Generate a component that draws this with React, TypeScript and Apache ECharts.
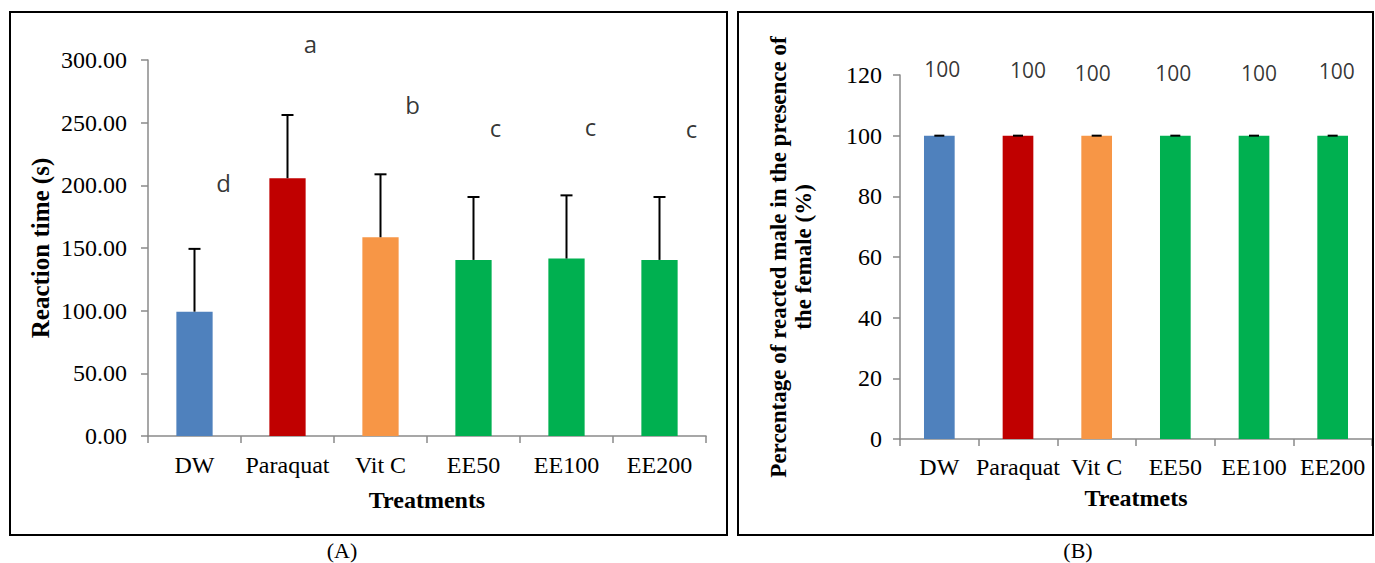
import React, { useEffect, useRef } from "react";
import * as echarts from "echarts";

const categories = ["DW", "Paraquat", "Vit C", "EE50", "EE100", "EE200"];
const barColors = ["#4F81BD", "#C00000", "#F79646", "#00B050", "#00B050", "#00B050"];

// Panel A: reaction time (s)
const reactionMean = [99.2, 205.7, 158.6, 140.5, 141.6, 140.5];
const reactionSD = [50.1, 50.4, 50.2, 50.2, 50.4, 50.2];
const letters = ["d", "a", "b", "c", "c", "c"];
const letterY = [201.9, 312.8, 264.1, 245.8, 247.3, 245.0];
const letterDx = [29, 23, 32, 22, 24, 32];
const yTicksA = { min: 0, max: 300, interval: 50 };

// Panel B: percentage of reacted male
const percentMean = [100, 100, 100, 100, 100, 100];
const percentSD = [0, 0, 0, 0, 0, 0];
const pctLabelY = [122.0, 121.7, 120.7, 120.7, 120.7, 121.3];
const pctLabelDx = [3, 10, -4, -2, 5, 4];
const yTicksB = { min: 0, max: 120, interval: 20 };

const SERIF = "'Liberation Serif', 'Times New Roman', serif";
const SANS = "'Open Sans', 'Liberation Sans', sans-serif";
const AXIS_GREY = "#8a8a8a";

function errorBarSeries(xIndex: number, mean: number[], sd: number[], capHalf: number) {
  return {
    type: "custom",
    xAxisIndex: xIndex,
    yAxisIndex: xIndex,
    z: 5,
    clip: false,
    data: mean.map((m, i) => [i, m, m + sd[i]]),
    renderItem: (params: any, api: any) => {
      const i = api.value(0);
      const lo = api.coord([i, api.value(1)]);
      const hi = api.coord([i, api.value(2)]);
      const style = { stroke: "#000", lineWidth: 2 };
      return {
        type: "group",
        children: [
          { type: "line", shape: { x1: lo[0], y1: lo[1], x2: hi[0], y2: hi[1] }, style },
          { type: "line", shape: { x1: hi[0] - capHalf, y1: hi[1], x2: hi[0] + capHalf, y2: hi[1] }, style },
        ],
      };
    },
  };
}

function xAxisCfg(gridIndex: number, name: string, margin: number, gap: number) {
  return {
    type: "category",
    gridIndex,
    data: categories,
    name,
    nameLocation: "middle",
    nameGap: gap,
    nameTextStyle: { fontFamily: SERIF, fontSize: 24, fontWeight: "bold", color: "#000" },
    axisLine: { lineStyle: { color: AXIS_GREY, width: 1.5 } },
    axisTick: { show: true, length: 7, lineStyle: { color: AXIS_GREY, width: 1.5 } },
    axisLabel: { fontFamily: SERIF, fontSize: 24, color: "#000", margin, interval: 0 },
  };
}

export default function App() {
  const ref = useRef<HTMLDivElement>(null);
  useEffect(() => {
    document.body.style.margin = "0";
    const chart = echarts.init(ref.current!, null, { renderer: "svg" });
    const option: any = {
      animation: false,
      backgroundColor: "#fff",
      grid: [
        { left: 148, top: 60, width: 558, height: 376 },
        { left: 900, top: 75, width: 472, height: 364 },
      ],
      xAxis: [
        xAxisCfg(0, "Treatments", 17, 52),
        xAxisCfg(1, "Treatmets", 16, 47),
      ],
      yAxis: [
        {
          type: "value",
          gridIndex: 0,
          ...yTicksA,
          name: "Reaction time (s)",
          nameLocation: "middle",
          nameRotate: 90,
          nameGap: 95,
          nameTextStyle: { fontFamily: SERIF, fontSize: 25, fontWeight: "bold", color: "#000" },
          splitLine: { show: false },
          axisLine: { show: true, lineStyle: { color: AXIS_GREY, width: 1.5 } },
          axisTick: { show: true, length: 7, lineStyle: { color: AXIS_GREY, width: 1.5 } },
          axisLabel: {
            fontFamily: SERIF,
            fontSize: 24,
            color: "#000",
            margin: 21,
            formatter: (v: number) => v.toFixed(2),
          },
        },
        {
          type: "value",
          gridIndex: 1,
          ...yTicksB,
          name: "Percentage of reacted male in the presence of\nthe female (%)",
          nameLocation: "middle",
          nameRotate: 90,
          nameGap: 84,
          nameTextStyle: {
            fontFamily: SERIF,
            fontSize: 23,
            fontWeight: "bold",
            color: "#000",
            lineHeight: 25,
            align: "center",
          },
          splitLine: { show: false },
          axisLine: { show: true, lineStyle: { color: AXIS_GREY, width: 1.5 } },
          axisTick: { show: true, length: 7, lineStyle: { color: AXIS_GREY, width: 1.5 } },
          axisLabel: { fontFamily: SERIF, fontSize: 24, color: "#000", margin: 18 },
        },
      ],
      series: [
        {
          type: "bar",
          xAxisIndex: 0,
          yAxisIndex: 0,
          barWidth: "39%",
          data: reactionMean.map((v, i) => ({ value: v, itemStyle: { color: barColors[i] } })),
        },
        errorBarSeries(0, reactionMean, reactionSD, 6),
        {
          type: "scatter",
          xAxisIndex: 0,
          yAxisIndex: 0,
          clip: false,
          symbolSize: 0,
          itemStyle: { color: "transparent" },
          data: letterY.map((y, i) => ({
            value: [i, y],
            label: {
              show: true,
              position: "inside",
              offset: [letterDx[i], 0],
              formatter: letters[i],
              fontFamily: SANS,
              fontSize: 24,
              color: "#000",
            },
          })),
        },
        {
          type: "bar",
          xAxisIndex: 1,
          yAxisIndex: 1,
          barWidth: "39%",
          data: percentMean.map((v, i) => ({ value: v, itemStyle: { color: barColors[i] } })),
        },
        errorBarSeries(1, percentMean, percentSD, 5),
        {
          type: "scatter",
          xAxisIndex: 1,
          yAxisIndex: 1,
          clip: false,
          symbolSize: 0,
          itemStyle: { color: "transparent" },
          data: pctLabelY.map((y, i) => ({
            value: [i, y],
            label: {
              show: true,
              position: "inside",
              offset: [pctLabelDx[i], 0],
              formatter: String(percentMean[i]),
              fontFamily: SANS,
              fontSize: 21,
              color: "#000",
            },
          })),
        },
      ],
      graphic: [
        {
          type: "rect",
          shape: { x: 10, y: 12, width: 717, height: 523 },
          style: { fill: "none", stroke: "#000", lineWidth: 2 },
          z: 10,
        },
        {
          type: "rect",
          shape: { x: 738, y: 12, width: 635, height: 523 },
          style: { fill: "none", stroke: "#000", lineWidth: 2 },
          z: 10,
        },
        {
          type: "text",
          x: 342,
          y: 550,
          style: {
            text: "(A)",
            fontFamily: SERIF,
            fontSize: 22,
            fill: "#000",
            textAlign: "center",
            textVerticalAlign: "middle",
          },
        },
        {
          type: "text",
          x: 1078,
          y: 550,
          style: {
            text: "(B)",
            fontFamily: SERIF,
            fontSize: 22,
            fill: "#000",
            textAlign: "center",
            textVerticalAlign: "middle",
          },
        },
      ],
    };
    chart.setOption(option);
    return () => chart.dispose();
  }, []);
  return <div ref={ref} style={{ width: 1375, height: 563 }} />;
}
